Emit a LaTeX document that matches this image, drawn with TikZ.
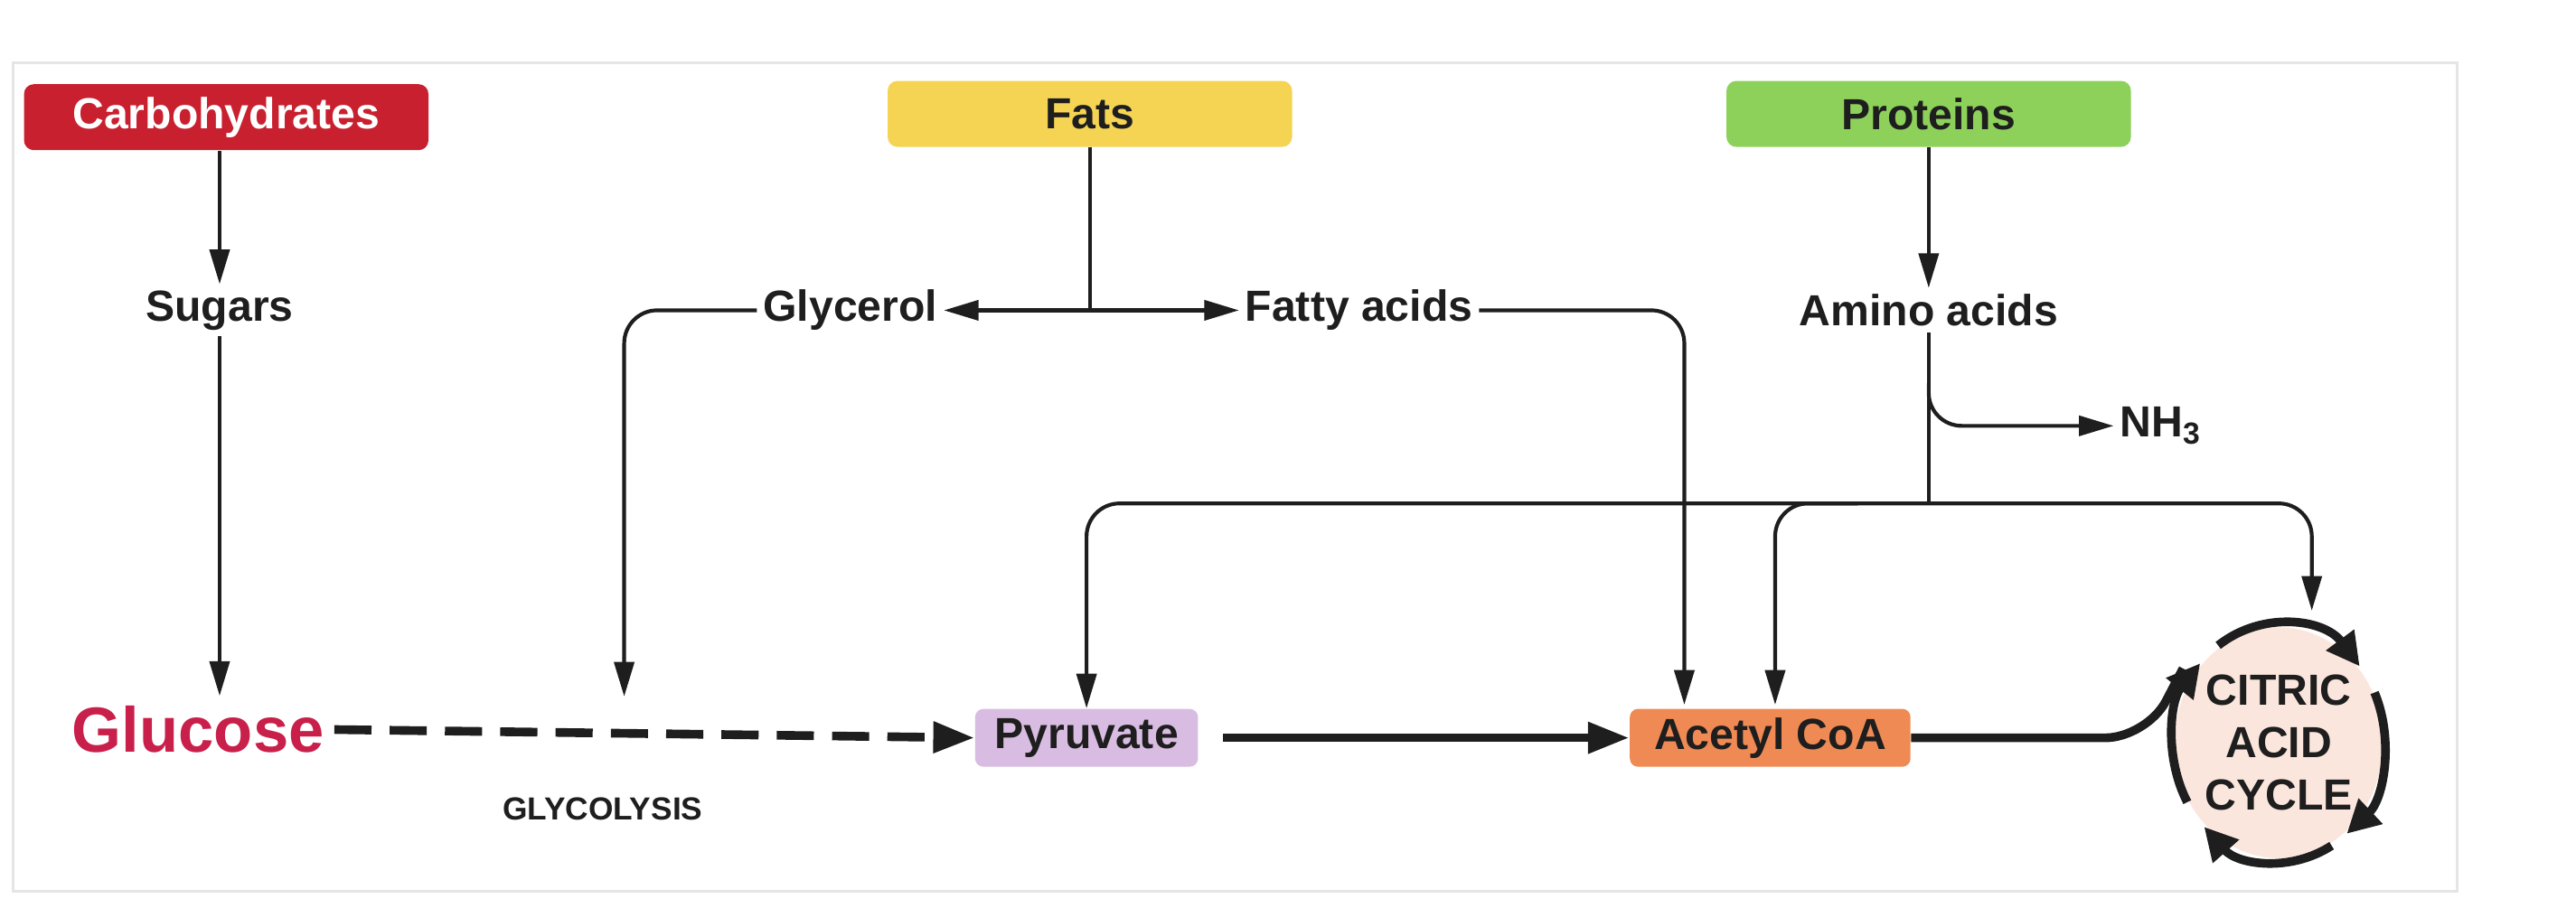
\documentclass[tikz,border=0pt]{standalone}
\usepackage{fontspec}
\setmainfont{Liberation Sans}
\usetikzlibrary{arrows.meta,positioning,shapes.geometric}

\definecolor{carbred}{HTML}{C8202F}
\definecolor{fatyellow}{HTML}{F5D453}
\definecolor{protgreen}{HTML}{8DD15A}
\definecolor{pyrlilac}{HTML}{D9BCE2}
\definecolor{acorange}{HTML}{EF8A55}
\definecolor{cycpink}{HTML}{FBE6DD}
\definecolor{glucred}{HTML}{C8204A}
\definecolor{txt}{HTML}{1E1E1E}

\tikzset{
  src/.style={rounded corners=0.12cm, minimum height=0.8cm, inner sep=0pt,
    font=\fontsize{15}{17}\selectfont\bfseries, text=txt},
  lbl/.style={font=\fontsize{15}{17}\selectfont\bfseries, text=txt, inner sep=2pt},
  mid/.style={rounded corners=0.1cm, minimum height=0.7cm, inner sep=3pt,
    font=\fontsize{15}{17}\selectfont\bfseries, text=txt},
  arr/.style={draw=txt, line width=1.3pt, -{Triangle[length=0.42cm,width=0.24cm]}},
  fat/.style={draw=txt, line width=3pt, -{Triangle[length=0.5cm,width=0.36cm]}},
  cycarr/.style={draw=txt, line width=3pt, -{Triangle[length=0.4cm,width=0.4cm]}}
}

\begin{document}
\begin{tikzpicture}[x=0.02cm,y=-0.02cm]
\useasboundingbox (0,0) rectangle (1560,550);
\draw[black!10, line width=1pt] (8,38) rectangle (1488,540);

% sources
\node[src, fill=carbred, text=white, minimum width=4.9cm] (carb) at (137,71) {Carbohydrates};
\node[src, fill=fatyellow, minimum width=4.9cm] (fats) at (660,69) {Fats};
\node[src, fill=protgreen, minimum width=4.9cm] (prot) at (1168,69) {Proteins};

% building blocks
\node[lbl] (sug) at (133,188) {Sugars};
\node[lbl] (gly) at (515,188) {Glycerol};
\node[lbl] (fa) at (823,188) {Fatty acids};
\node[lbl] (amino) at (1168,188) {Amino acids};
\node[lbl, anchor=west] (nh) at (1280,258) {NH$_\mathbf{3}$};

% main line
\node[font=\fontsize{22}{24}\selectfont\bfseries, text=glucred] (gluc) at (120,442) {Glucose};
\node[mid, fill=pyrlilac, minimum width=2.7cm] (pyr) at (658,447) {Pyruvate};
\node[mid, fill=acorange, minimum width=3.4cm] (acoa) at (1072,447) {Acetyl CoA};
\node[ellipse, fill=cycpink, minimum width=2.5cm, minimum height=2.8cm, inner sep=0pt,
  font=\fontsize{15}{18}\selectfont\bfseries, text=txt, align=center] (cyc) at (1380,450)
  {CITRIC\\ACID\\CYCLE};
\node[font=\fontsize{11}{13}\selectfont\bfseries, text=txt] (glyc) at (365,490) {GLYCOLYSIS};

\coordinate (fj) at (660,188);
\coordinate (gx) at (378,422);
\coordinate (fx) at (1020,427);
\coordinate (aj) at (1168,305);
\coordinate (ab) at (1168,232);
\coordinate (ax) at (1125,305);
\coordinate (ay) at (1075,427);
\coordinate (cx) at (1400,370);
\coordinate (ce) at (1322,405);

% connectors
\draw[arr] (sug |- carb.south) -- (sug);
\draw[arr] (sug) -- (sug |- gluc.north);
\draw[draw=txt, line width=1.3pt] (fats) -- (fj);
\draw[arr] (fj) -- (gly);
\draw[arr] (fj) -- (fa);
\draw[arr, rounded corners=0.4cm] (gly.west) -| (gx);
\draw[arr, rounded corners=0.4cm] (fa.east) -| (fx);
\draw[arr] (prot) -- (amino);
\draw[draw=txt, line width=1.3pt] (amino) -- (aj);
\draw[arr, rounded corners=0.4cm] (ab) |- (nh.west);
\draw[arr, {Triangle[length=0.42cm,width=0.24cm]}-{Triangle[length=0.42cm,width=0.24cm]}, rounded corners=0.4cm] (pyr.north) |- (aj) -| (cx);
\draw[arr, rounded corners=0.4cm] (ax) -| (ay);

\draw[fat, dashed, dash pattern=on 0.45cm off 0.22cm] (gluc.east) -- (pyr.west);
\draw[fat] ([xshift=0.3cm]pyr.east) -- (acoa.west);
\draw[draw=txt, line width=3pt, rounded corners=0.5cm] (acoa.east) -- (1300,447) -- (ce);

% cycle arrows
\foreach \a/\b in {125/40, 25/-50, -60/-135, -150/-222}
  \draw[cycarr] ([shift={(\a:1.28cm and 1.44cm)}]cyc.center)
    arc[start angle=\a, end angle=\b, x radius=1.28cm, y radius=1.44cm];
\end{tikzpicture}
\end{document}
